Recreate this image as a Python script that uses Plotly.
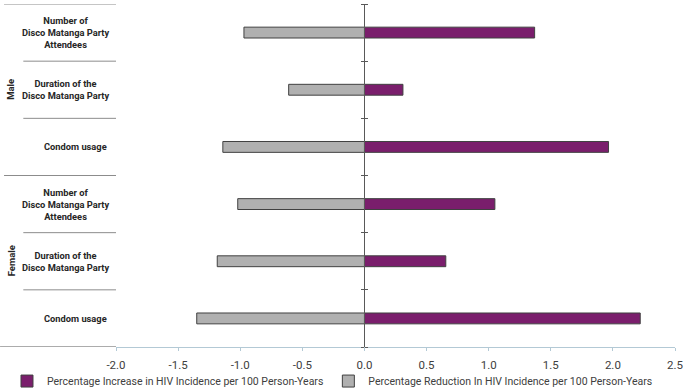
import plotly.graph_objects as go

# ---- data ----
groups = ["Male", "Male", "Male", "Female", "Female", "Female"]
categories = [
    "Number of<br>Disco Matanga Party<br>Attendees",
    "Duration of the<br>Disco Matanga Party",
    "Condom usage",
    "Number of<br>Disco Matanga Party<br>Attendees",
    "Duration of the<br>Disco Matanga Party",
    "Condom usage",
]
increase = [1.37, 0.31, 1.965, 1.05, 0.655, 2.22]
reduction = [-0.97, -0.61, -1.14, -1.02, -1.185, -1.35]
series_names = [
    "Percentage Increase in HIV Incidence per 100 Person-Years",
    "Percentage Reduction In HIV Incidence per 100 Person-Years",
]
tick_values = [-2.0, -1.5, -1.0, -0.5, 0.0, 0.5, 1.0, 1.5, 2.0, 2.5]
tick_labels = ["-2.0", "-1.5", "-1.0", "-0.5", "0.0", "0.5", "1.0", "1.5", "2.0", "2.5"]

PURPLE = "#7A1E6C"
GRAY = "#B0B0B0"
EDGE = "#404040"
AXIS_BLUE = "#B3C9D5"
TXT = "#404040"
FONT = "Roboto, sans-serif"

idx = list(range(len(categories)))

fig = go.Figure()
fig.add_trace(go.Bar(
    y=idx, x=increase, orientation="h", name=series_names[0],
    marker=dict(color=PURPLE, line=dict(color=EDGE, width=1)), width=0.19,
))
fig.add_trace(go.Bar(
    y=idx, x=reduction, orientation="h", name=series_names[1],
    marker=dict(color=GRAY, line=dict(color=EDGE, width=1)), width=0.19,
))

n = len(categories)
seps = [i + 0.5 for i in range(-1, n)]
zero_pos = (0 - tick_values[0]) / (tick_values[-1] - tick_values[0])

fig.update_layout(
    width=685, height=391,
    margin=dict(l=116, r=10, t=4, b=44, autoexpand=False),
    plot_bgcolor="white", paper_bgcolor="white",
    barmode="relative",
    showlegend=True,
    legend=dict(
        orientation="h", x=-0.195, xanchor="left", y=-0.057, yanchor="top",
        font=dict(family=FONT, size=10.5, color=TXT),
        itemwidth=30, tracegroupgap=0, traceorder="normal", bgcolor="rgba(0,0,0,0)",
    ),
    xaxis=dict(
        range=[tick_values[0], tick_values[-1]], tickvals=tick_values, ticktext=tick_labels,
        showgrid=False, zeroline=False, showline=True, linecolor=AXIS_BLUE, linewidth=1,
        ticks="outside", ticklen=3, tickcolor=AXIS_BLUE, automargin=False,
        ticklabelstandoff=4,
        tickfont=dict(family=FONT, size=11.5, color=TXT),
    ),
    yaxis=dict(
        range=[n - 0.5, -0.5], showgrid=False, zeroline=False, automargin=False,
        anchor="free", position=zero_pos, showline=True, linecolor="#595959", linewidth=1,
        tickvals=seps, ticks="outside", ticklen=3, tickcolor="#595959", showticklabels=False,
    ),
    yaxis2=dict(
        matches="y", overlaying="y", anchor="free", position=zero_pos, side="right",
        showgrid=False, zeroline=False, showline=False, automargin=False,
        tickvals=seps, ticks="outside", ticklen=3, tickcolor="#595959", showticklabels=False,
    ),
)

# invisible trace to activate yaxis2
fig.add_trace(go.Scatter(x=[None], y=[None], yaxis="y2", showlegend=False, hoverinfo="skip"))

# category labels
for i, lab in enumerate(categories):
    multi = "<br>" in lab
    fig.add_annotation(
        x=-0.0903 if multi else -0.0724, xref="paper", y=i, yref="y", text=lab,
        showarrow=False, xanchor="center", yanchor="middle", align="center",
        font=dict(family=FONT, size=9.3, color="#262626", weight="bold"),
    )

# group labels
for g in ["Male", "Female"]:
    members = [i for i, gg in enumerate(groups) if gg == g]
    fig.add_annotation(
        x=-0.1877, xref="paper", y=sum(members) / len(members), yref="y", text=g,
        showarrow=False, textangle=-90, xanchor="center", yanchor="middle",
        font=dict(family=FONT, size=9.5, color="#262626", weight="bold"),
    )

# separator lines of the category label area
group_bounds = set()
prev = None
for i, g in enumerate(groups):
    if g != prev:
        group_bounds.add(i - 0.5)
    prev = g
for s in seps:
    if s == n - 0.5:
        x0, col = -0.2074, "#595959"
    elif s in group_bounds:
        x0, col = -0.2003, "#8C8C8C"
    else:
        x0, col = -0.1658, "#8C8C8C"
    fig.add_shape(type="line", xref="paper", yref="y", x0=x0, x1=0, y0=s, y1=s,
                  line=dict(color=col, width=1))

fig.write_html("out.html", config={"displayModeBar": False},
               post_script="document.body.style.margin='0';")
